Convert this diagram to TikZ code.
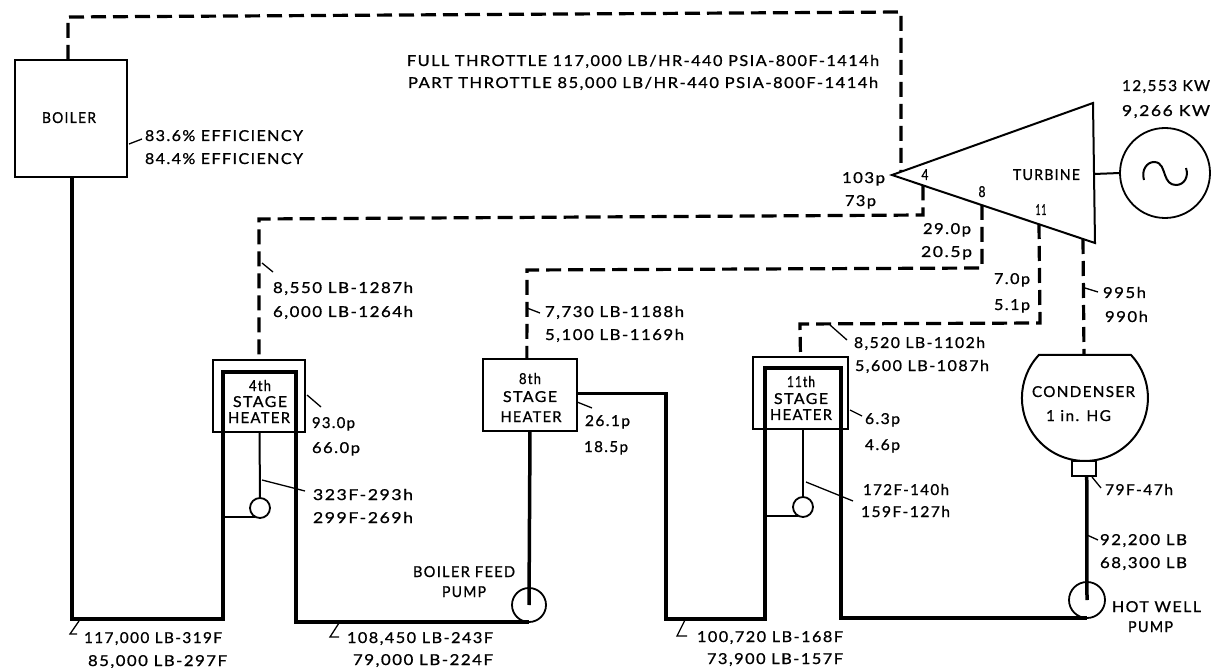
\documentclass[tikz,border=0pt]{standalone}
\usepackage{graphicx}
\usepackage{fontspec}
\newfontfamily\labfont[FakeBold=0.9,LetterSpace=9]{Lato}
\tikzset{
  x=1pt,y=-1pt,
  lab/.style={inner sep=0pt,outer sep=0pt,text height=10pt,text depth=0pt,font=\labfont\fontsize{15}{17}\selectfont},
  box/.style={draw,line width=2pt,inner sep=0pt,outer sep=0pt,rectangle},
  inbox/.style={inner sep=0pt,outer sep=0pt,rectangle},
  roundthing/.style={draw,circle,line width=1.8pt,inner sep=0pt,outer sep=0pt},
  steam/.style={line width=3.2pt,dash pattern=on 15pt off 7pt},
  feed/.style={line width=3.5pt,line join=miter},
  drain/.style={line width=2pt},
  lead/.style={line width=1.3pt},
  outline/.style={line width=2pt,line join=miter}
}
\newcommand\wlbl[5]{\node[lab,anchor=west] (#1) at (#2,#3) {\resizebox{#4pt}{\height}{#5}};}
\newcommand\clbl[5]{\node[lab,anchor=center] (#1) at (#2,#3) {\resizebox{#4pt}{\height}{#5}};}
\newcommand\ldr[3]{\coordinate (#1a) at (#2);\coordinate (#1b) at (#3);\draw[lead] (#1a) -- (#1b);}
\begin{document}
\begin{tikzpicture}
\useasboundingbox (0,0) rectangle (1216,668);
\fill[white] (0,0) rectangle (1216,668);

% equipment
\node[box,minimum width=112pt,minimum height=117pt] (boiler) at (71,118.5) {};
\node[box,minimum width=92pt,minimum height=72pt] (h4) at (259,396) {};
\node[inbox,minimum width=73pt,minimum height=60pt] (h4in) at (259.5,402) {};
\node[box,minimum width=94pt,minimum height=72pt] (h8) at (530,395) {};
\node[box,minimum width=95pt,minimum height=72pt] (h11) at (800.5,393) {};
\node[inbox,minimum width=76pt,minimum height=61pt] (h11in) at (803,398.5) {};
\node[roundthing,minimum size=20pt] (trap4) at (260,508) {};
\node[roundthing,minimum size=20pt] (trap11) at (803,507) {};
\node[roundthing,minimum size=34pt] (pump8) at (529,605) {};
\node[roundthing,minimum size=36pt] (pumpH) at (1087,600) {};
\node[roundthing,minimum size=90pt] (gen) at (1165,173) {};
\node[box,minimum width=24pt,minimum height=15pt] (neck) at (1084,468.5) {};

% turbine
\coordinate (tA) at (892,175);
\coordinate (tB) at (1093,103);
\coordinate (tC) at (1095,243);
\draw[outline] (tA) -- (tB) -- (tC) -- cycle;
\coordinate (tIn) at (901,172);
\coordinate (t4) at (923,185.5);
\coordinate (t8) at (982,205);
\coordinate (t11) at (1039,224);
\coordinate (tX) at (1083,239);
\coordinate (tOut) at (1094,174);
\draw[drain] (tOut) -- (gen.west);
\draw[line width=2pt] (1144,180) .. controls (1141,170) and (1147,162) .. (1154,162)
  .. controls (1162,162) and (1163,170) .. (1165,175)
  .. controls (1167,181) and (1170,185) .. (1176,185)
  .. controls (1184,185) and (1189,177) .. (1186,168);

% condenser
\coordinate (condT) at (1084,355);
\draw[outline] (1131,355) arc[start angle=-43,end angle=223,radius=63] -- cycle;

% steam lines
\coordinate (s1) at (68,17);
\coordinate (s2) at (901,12);
\draw[steam] (boiler.93) -- (s1) -- (s2) -- (tIn);
\coordinate (e4a) at (923,215);
\coordinate (e4b) at (259,219);
\draw[steam] (t4) -- (e4a) -- (e4b) -- (h4.north);
\coordinate (e8a) at (982,268);
\coordinate (e8b) at (527,270);
\draw[steam] (t8) -- (e8a) -- (e8b) -- (h8.95);
\coordinate (e11a) at (1040,323);
\coordinate (e11b) at (800,324);
\draw[steam] (t11) -- (e11a) -- (e11b) -- (h11.north);
\draw[steam] (tX) -- (condT);

% feed water
\coordinate (f1) at (223,619);
\coordinate (f2) at (666,619);
\draw[feed] (boiler.-89) |- (f1) -- (h4in.south west) -- (h4in.north west) -- (h4in.north east) -- (h4in.south east) |- (pump8.south);
\draw[feed] (pump8.center) -- (h8.south);
\draw[feed] (h8.2.4) -| (f2) -| (h11in.south west) -- (h11in.north west) -- (h11in.north east) -- (h11in.south east) |- (pumpH.south);
\draw[feed] (neck.-70) -- (pumpH.center);

% drains
\draw[drain] (h4in.south) -- (trap4.north);
\draw[drain] (trap4.240) -- (trap4.240 -| h4in.west);
\draw[drain] (h11in.south) -- (trap11.north);
\draw[drain] (trap11.240) -- (trap11.240 -| h11in.west);

% leaders
\ldr{la}{129,144}{142,139}
\ldr{lb}{262,263}{273,272}
\ldr{lc}{527,308}{540,313}
\ldr{ld}{830,325}{847,340}
\ldr{le}{307,395}{321,407}
\ldr{lf}{262,480}{305,491}
\ldr{lg}{806,482}{853,501}
\ldr{lh}{850,410}{862,416}
\ldr{li}{577,402}{592,408}
\ldr{lj}{1092,477}{1101,488}
\ldr{lk}{1087,535}{1098,540}
\ldr{ll}{1085,288}{1098,292}
\coordinate (z1a) at (79,621);\coordinate (z1b) at (70,634);\coordinate (z1c) at (77,634);
\draw[lead] (z1a) -- (z1b) -- (z1c);
\coordinate (z2a) at (339,623);\coordinate (z2b) at (330,637);\coordinate (z2c) at (339,637);
\draw[lead] (z2a) -- (z2b) -- (z2c);
\coordinate (z3a) at (685,620);\coordinate (z3b) at (677,636);\coordinate (z3c) at (687,636);
\draw[lead] (z3a) -- (z3b) -- (z3c);

% labels
\clbl{tboiler}{69}{118}{54}{BOILER}
\wlbl{t1a}{407}{61}{472}{FULL THROTTLE 117,000 LB/HR-440 PSIA-800F-1414h}
\wlbl{t1b}{408}{83}{470}{PART THROTTLE 85,000 LB/HR-440 PSIA-800F-1414h}
\wlbl{t2a}{145}{136}{158}{83.6\% EFFICIENCY}
\wlbl{t2b}{145}{159}{158}{84.4\% EFFICIENCY}
\wlbl{t3a}{1122}{86}{88}{12,553 KW}
\wlbl{t3b}{1122}{111}{88}{9,266 KW}
\clbl{tturb}{1046.5}{175}{67}{TURBINE}
\clbl{tn4}{925}{175}{7}{4}
\clbl{tn8}{982}{192}{7}{8}
\clbl{tn11}{1041}{210}{11}{11}
\wlbl{t4a}{842}{178}{43}{103p}
\wlbl{t4b}{845}{201}{31}{73p}
\wlbl{t5a}{923}{229}{48}{29.0p}
\wlbl{t5b}{921}{252}{51}{20.5p}
\wlbl{t6a}{994}{279}{36}{7.0p}
\wlbl{t6b}{994}{305}{36}{5.1p}
\wlbl{t7a}{1103}{293}{43}{995h}
\wlbl{t7b}{1105}{317}{43}{990h}
\wlbl{t8a}{273}{288}{140}{8,550 LB-1287h}
\wlbl{t8b}{273}{312}{140}{6,000 LB-1264h}
\wlbl{t9a}{545}{312}{139}{7,730 LB-1188h}
\wlbl{t9b}{545}{335}{139}{5,100 LB-1169h}
\wlbl{t10a}{854}{343}{131}{8,520 LB-1102h}
\wlbl{t10b}{855}{366}{134}{5,600 LB-1087h}
\clbl{th4a}{260}{386}{22}{4th}
\clbl{th4b}{260}{402}{54}{STAGE}
\clbl{th4c}{259}{418}{62}{HEATER}
\clbl{th8a}{530}{379}{22}{8th}
\clbl{th8b}{530}{397}{54}{STAGE}
\clbl{th8c}{531}{417}{61}{HEATER}
\clbl{th11a}{801}{382}{28}{11th}
\clbl{th11b}{801}{399}{54}{STAGE}
\clbl{th11c}{801}{415}{62}{HEATER}
\wlbl{t11a}{312}{423}{43}{93.0p}
\wlbl{t11b}{312}{448}{48}{66.0p}
\wlbl{t12a}{585}{421}{45}{26.1p}
\wlbl{t12b}{584}{447}{44}{18.5p}
\wlbl{t13a}{865}{419}{35}{6.3p}
\wlbl{t13b}{865}{445}{35}{4.6p}
\wlbl{t14a}{313}{495}{100}{323F-293h}
\wlbl{t14b}{313}{518}{100}{299F-269h}
\wlbl{t15a}{863}{490}{86}{172F-140h}
\wlbl{t15b}{861}{512}{89}{159F-127h}
\clbl{tcond}{1083.5}{392}{103}{CONDENSER}
\clbl{tcond2}{1078.5}{416}{65}{1 in. HG}
\wlbl{t16}{1105}{490}{68}{79F-47h}
\wlbl{t17a}{1100}{540}{87}{92,200 LB}
\wlbl{t17b}{1100}{563}{87}{68,300 LB}
\wlbl{t18a}{1112}{607}{89}{HOT WELL}
\wlbl{t18b}{1128}{627}{45}{PUMP}
\wlbl{t19a}{413}{572}{102}{BOILER FEED}
\wlbl{t19b}{442}{592}{44}{PUMP}
\wlbl{t20a}{84}{638}{138}{117,000 LB-319F}
\wlbl{t20b}{88}{661}{139}{85,000 LB-297F}
\wlbl{t21a}{347}{638}{146}{108,450 LB-243F}
\wlbl{t21b}{353}{660}{140}{79,000 LB-224F}
\wlbl{t22a}{697}{637}{146}{100,720 LB-168F}
\wlbl{t22b}{707}{659}{136}{73,900 LB-157F}
\end{tikzpicture}
\end{document}
